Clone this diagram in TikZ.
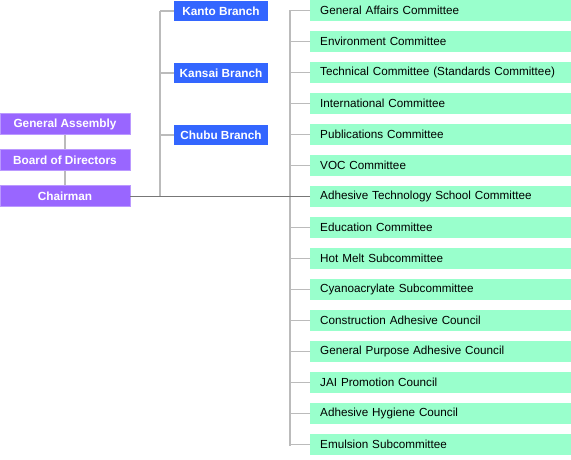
\documentclass[tikz,border=0pt]{standalone}
\usepackage{fontspec}
\setmainfont{Liberation Sans}
\usetikzlibrary{positioning}

\definecolor{headpurple}{RGB}{153,102,255}
\definecolor{headedge}{RGB}{187,153,255}
\definecolor{branchblue}{RGB}{51,102,255}
\definecolor{commgreen}{RGB}{153,255,204}
\definecolor{linegray}{RGB}{187,187,187}
\definecolor{maingray}{RGB}{119,119,119}

\tikzset{
	head/.style={fill=headpurple, draw=headedge, line width=0.8pt, text=white, font=\bfseries\fontsize{11.8}{13}\selectfont, minimum width=130pt, minimum height=21pt, inner sep=0pt},
	branch/.style={fill=branchblue, text=white, font=\bfseries\fontsize{11.8}{13}\selectfont, minimum width=94pt, minimum height=20pt, inner sep=0pt},
	comm/.style={fill=commgreen, anchor=west, font=\fontsize{11.7}{13}\selectfont, text width=250pt, inner xsep=10pt, minimum height=21pt, inner ysep=0pt, align=left},
	link/.style={draw=linegray, line width=1.5pt},
}

\begin{document}
\begin{tikzpicture}[x=1pt, y=-1pt]
	\useasboundingbox (0,0) rectangle (571,460);
	
	% left column
	\node[head] (assembly) at (65,124) {General Assembly};
	\node[head] (board) at (65,160) {Board of Directors};
	\node[head] (chair) at (65,196) {Chairman};
	\draw[link] (assembly) -- (board);
	\draw[link] (board) -- (chair);
	
	% branches
	\node[branch] (kanto) at (221,11) {Kanto Branch};
	\node[branch] (kansai) at (221,73) {Kansai Branch};
	\node[branch] (chubu) at (221,135) {Chubu Branch};
	\coordinate (btop) at (160,11);
	\coordinate (bbot) at (160,196);
	\draw[link] (btop) -- (bbot);
	\foreach \b in {kanto,kansai,chubu} \draw[link] (\b.west) -- (\b.west -| btop);
	
	% committees
	\foreach \i/\name in {1/General Affairs Committee, 2/Environment Committee, 3/Technical Committee (Standards Committee), 4/International Committee, 5/Publications Committee, 6/VOC Committee, 7/Adhesive Technology School Committee, 8/Education Committee, 9/Hot Melt Subcommittee, 10/Cyanoacrylate Subcommittee, 11/Construction Adhesive Council, 12/General Purpose Adhesive Council, 13/JAI Promotion Council, 14/Adhesive Hygiene Council, 15/Emulsion Subcommittee}
		\node[comm] (c\i) at (310,{10.5+31*(\i-1)}) {\name};
	\coordinate (ctop) at (290,10.5);
	\coordinate (cbot) at (290,445.5);
	\draw[link] (ctop) -- (cbot);
	\foreach \i in {1,...,15} \draw[link] (c\i.west) -- (c\i.west -| ctop);
	
	% chairman line
	\draw[maingray, line width=1pt] (chair.east) -- (chair.east -| c7.west);
\end{tikzpicture}
\end{document}
